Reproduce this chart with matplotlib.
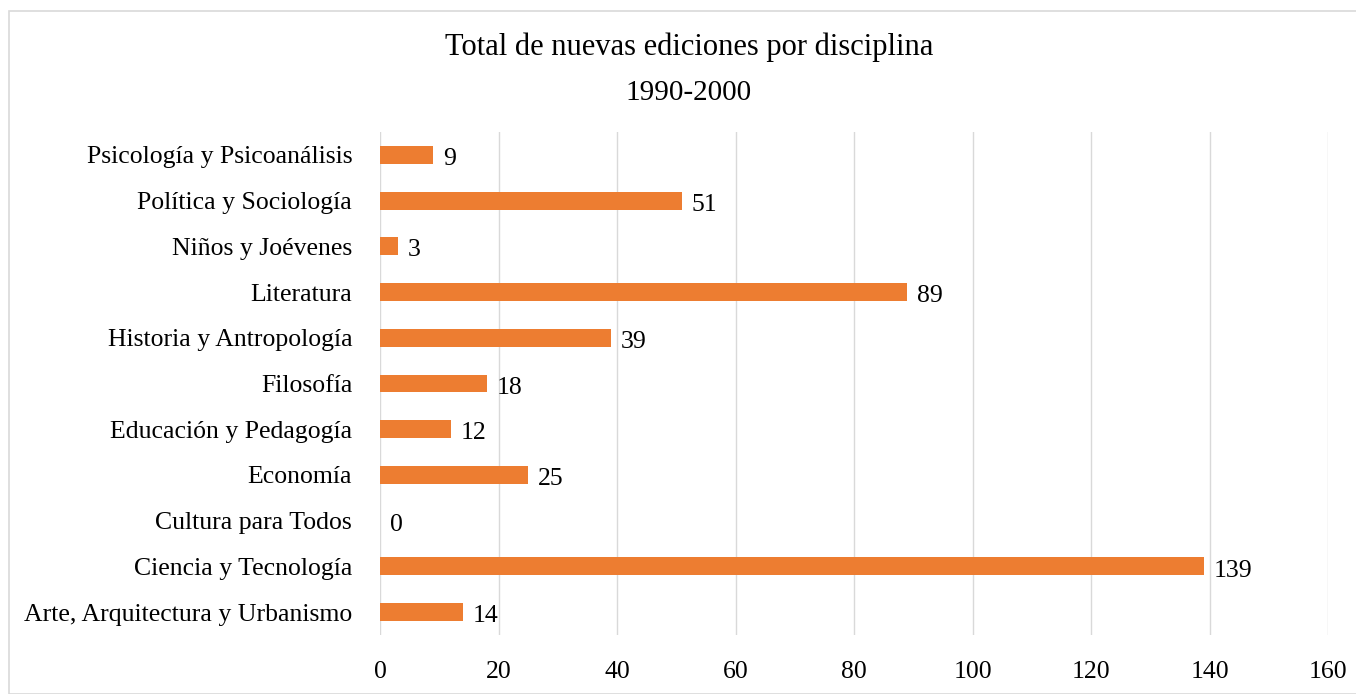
import matplotlib
matplotlib.use("Agg")
import matplotlib.pyplot as plt
from matplotlib.patches import Rectangle

categories = [
    "Arte, Arquitectura y Urbanismo",
    "Ciencia y Tecnología",
    "Cultura para Todos",
    "Economía",
    "Educación y Pedagogía",
    "Filosofía",
    "Historia y Antropología",
    "Literatura",
    "Niños y Joévenes",
    "Política y Sociología",
    "Psicología y Psicoanálisis",
]
values = [14, 139, 0, 25, 12, 18, 39, 89, 3, 51, 9]
x_ticks = [0, 20, 40, 60, 80, 100, 120, 140, 160]

title = "Total de nuevas ediciones por disciplina"
subtitle = "1990-2000"

plt.rcParams["font.family"] = ["Liberation Serif", "DejaVu Serif"]

W, H = 1356, 694
fig = plt.figure(figsize=(W / 100, H / 100), dpi=100)

# chart area frame
fig.patches.append(Rectangle((9 / W, 0), 1.2, (H - 11) / H, transform=fig.transFigure,
                             fill=False, edgecolor="#d9d9d9", linewidth=1.2))

left, right = 380 / W, 1328 / W
top, bottom = 1 - 132 / H, 1 - 635 / H
ax = fig.add_axes([left, bottom, right - left, top - bottom])

ypos = list(range(len(categories)))
ax.barh(ypos, values, height=0.39, color="#ED7D31", zorder=3)

fs = 18.5
for y, v in zip(ypos, values):
    ax.annotate(str(v), xy=(v, y), xytext=(7, -3), textcoords="offset points",
                ha="left", va="center", fontsize=fs, color="#000000")

ax.set_xlim(0, 160)
ax.set_ylim(-0.5, len(categories) - 0.5)
ax.set_xticks(x_ticks)
ax.set_xticklabels([str(t) for t in x_ticks], fontsize=fs)
ax.set_yticks(ypos)
ax.set_yticklabels(categories, fontsize=fs)
ax.tick_params(axis="both", length=0)
ax.tick_params(axis="x", pad=19)
ax.tick_params(axis="y", pad=20)
ax.grid(axis="x", color="#d9d9d9", linewidth=1, zorder=0)
for s in ax.spines.values():
    s.set_visible(False)

fig.text(0.508, 1 - 47 / H, title, ha="center", va="center", fontsize=22)
fig.text(0.508, 1 - 93 / H, subtitle, ha="center", va="center", fontsize=21)

fig.savefig("out.png", dpi=100)
